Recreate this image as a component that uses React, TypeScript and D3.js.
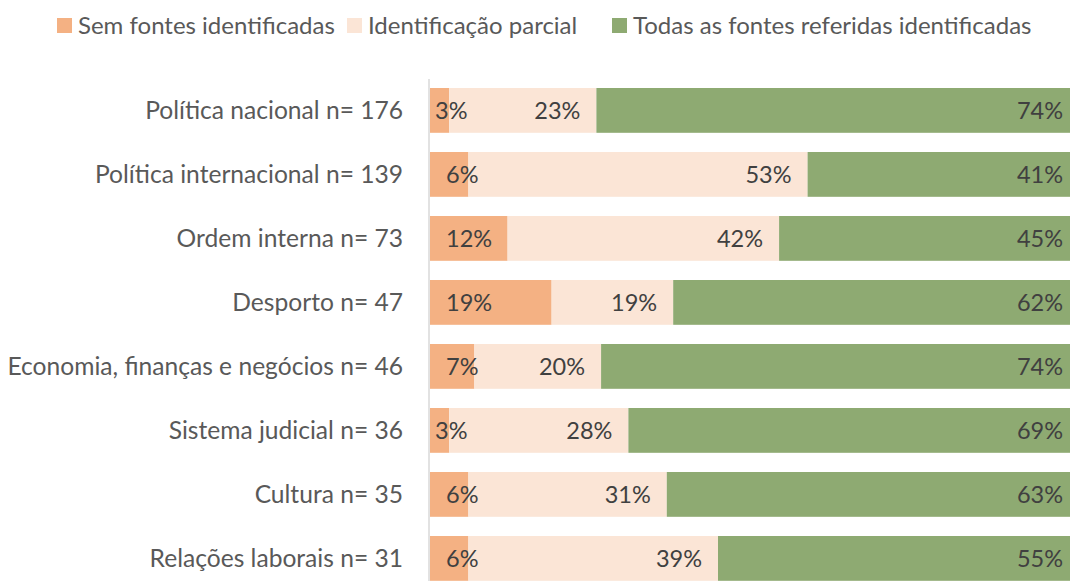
import * as d3 from 'd3'

const categories = [
  'Política nacional n= 176',
  'Política internacional n= 139',
  'Ordem interna n= 73',
  'Desporto n= 47',
  'Economia, finanças e negócios n= 46',
  'Sistema judicial n= 36',
  'Cultura n= 35',
  'Relações laborais n= 31',
]

const seriesNames = ['Sem fontes identificadas', 'Identificação parcial', 'Todas as fontes referidas identificadas']
const semFontes = [3, 6, 12, 19, 7, 3, 6, 6]
const parcial = [23, 53, 42, 19, 20, 28, 31, 39]
const todas = [74, 41, 45, 62, 74, 69, 63, 55]

const colors = ['#F4B183', '#FBE5D6', '#8EAA72']
const FONT = 'Lato, Calibri, sans-serif'

const W = 1070
const H = 581
const left = 430
const right = 1070

export default function App() {
  const y = d3.scaleBand<string>()
    .domain(categories)
    .range([78.4, 590.4])
    .paddingInner(0.3)
    .paddingOuter(0.15)

  const rows = categories.map((c, i) => {
    const vals = [semFontes[i], parcial[i], todas[i]]
    const stack = d3.stack<number[]>().keys(['0', '1', '2']).value((d, k) => d[+k])([vals])
    const x = d3.scaleLinear().domain([0, d3.sum(vals)]).range([left, right])
    return { c, vals, segs: stack.map(s => [x(s[0][0]), x(s[0][1])]) }
  })

  const legendX = [57, 347, 612]

  return (
    <svg width={W} height={H} style={{ position: 'absolute', left: 0, top: 0, background: '#fff' }} fontFamily={FONT}>
      {seriesNames.map((s, i) => (
        <g key={s}>
          <rect x={legendX[i]} y={18} width={15} height={15} fill={colors[i]} />
          <text x={legendX[i] + 21} y={26} dy="0.35em" fontSize={24} fill="#595959">{s}</text>
        </g>
      ))}
      <line x1={429} x2={429} y1={79} y2={H} stroke="#d9d9d9" strokeWidth={1.5} />
      {rows.map(r => {
        const y0 = y(r.c)!
        const bw = y.bandwidth()
        const cy = y0 + bw / 2
        return (
          <g key={r.c}>
            <text x={403} y={cy} dy="0.35em" textAnchor="end" fontSize={24.6} fill="#595959">{r.c}</text>
            {r.segs.map(([a, b], k) => (
              <rect key={k} x={a} y={y0} width={b - a} height={bw} fill={colors[k]} />
            ))}
            {r.segs.map(([a, b], k) => {
              let tx = 0
              let anchor = 'start'
              if (k === 0) tx = b - a < 20 ? a + 5 : a + 16
              else if (k === 1) { tx = b - 16; anchor = 'end' }
              else { tx = b - 7; anchor = 'end' }
              return (
                <text key={'t' + k} x={tx} y={cy} dy="0.35em" textAnchor={anchor} fontSize={23.5} fill="#404040">
                  {r.vals[k] + '%'}
                </text>
              )
            })}
          </g>
        )
      })}
    </svg>
  )
}
